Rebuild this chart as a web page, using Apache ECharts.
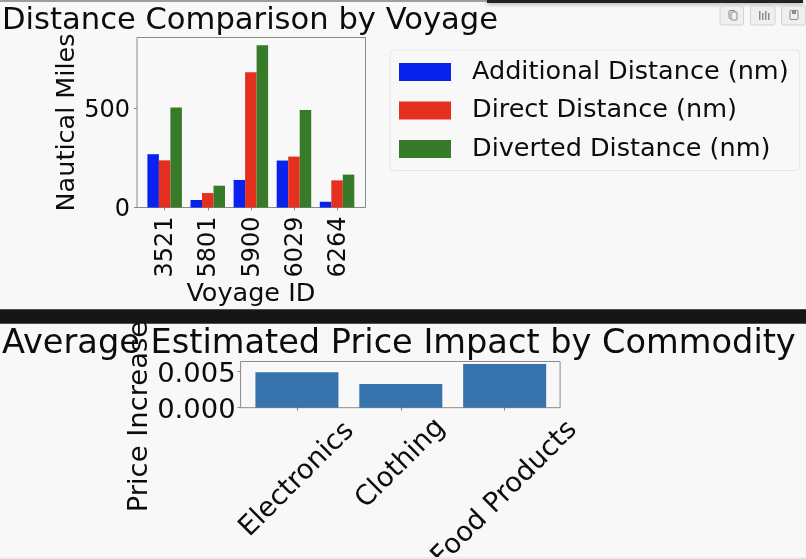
<!DOCTYPE html>
<html><head><meta charset="utf-8">
<style>html,body{margin:0;padding:0;background:#f8f8f8}#c{width:806px;height:559px}</style>
<script src="https://cdn.jsdelivr.net/npm/echarts@6/dist/echarts.min.js"></script>
</head><body><div id="c"></div>
<script>
const voyages = ['3521','5801','5900','6029','6264'];
const additional = [269,38,139,237,29];
const direct = [238,73,683,257,137];
const diverted = [505,110,819,492,166];
const commodities = ['Electronics','Clothing','Food Products'];
const priceImpact = [0.00485,0.00325,0.0060];
const distanceTicks = [0,500];
const priceTicks = [0,0.005];

const F = 'DejaVu Sans';
const INK = '#0c0c0c';
const FRAME = '#8a8a8a';
const chart = echarts.init(document.getElementById('c'));

function shiftDown(d){ const p = 1.414*d; return {align:'center',verticalAlign:'top',lineHeight:p,padding:[0,p,0,0]}; }
const labelShift = {'Electronics':shiftDown(16),'Clothing':{align:'center',verticalAlign:'middle'},'Food Products':shiftDown(30)};

function btn(x,w){ return {type:'rect',shape:{x:x,y:6,width:w,height:19,r:2},style:{fill:'#efefef',stroke:'#d2d2d2'},z:5}; }
function glyph(x,y,w,h,fill){ return {type:'rect',shape:{x:x,y:y,width:w,height:h},style:{fill:fill||'#8c8c8c'},z:6}; }
function outline(x,y,w,h){ return {type:'rect',shape:{x:x,y:y,width:w,height:h,r:1},style:{fill:'#efefef',stroke:'#8c8c8c',lineWidth:1},z:6}; }

chart.setOption({
  animation:false,
  backgroundColor:'#f8f8f8',
  title:[
    {text:'Distance Comparison by Voyage',left:2,top:6,padding:0,textStyle:{fontFamily:F,fontSize:30.6,fontWeight:'normal',color:INK}},
    {text:'Average Estimated Price Impact by Commodity',left:2,top:327,padding:0,textStyle:{fontFamily:F,fontSize:33.6,fontWeight:'normal',color:INK}}
  ],
  legend:{
    data:['Additional Distance (nm)','Direct Distance (nm)','Diverted Distance (nm)'],
    left:390,top:50,orient:'vertical',icon:'rect',itemWidth:52,itemHeight:18,itemGap:12.5,
    padding:[9,11,8.5,9],backgroundColor:'#f8f8f8',borderColor:'#e6e6e6',borderWidth:1,borderRadius:4,
    textStyle:{fontFamily:F,fontSize:25.5,color:INK,padding:[0,0,0,16]}
  },
  grid:[
    {left:137,top:37.5,width:228.5,height:170,show:true,borderColor:FRAME,borderWidth:1,backgroundColor:'transparent',outerBoundsMode:'none'},
    {left:143.1,top:37.5,width:215.5,height:170,outerBoundsMode:'none'},
    {left:240.6,top:361.5,width:319.5,height:46.2,show:true,borderColor:FRAME,borderWidth:1,backgroundColor:'transparent',outerBoundsMode:'none'},
    {left:245,top:361.5,width:311.6,height:46.2,outerBoundsMode:'none'}
  ],
  xAxis:[
    {gridIndex:0,type:'category',data:voyages,show:false},
    {gridIndex:1,type:'category',data:voyages,
      name:'Voyage ID',nameLocation:'middle',nameGap:67,nameTextStyle:{fontFamily:F,fontSize:25.5,color:INK},
      axisLine:{show:false},axisTick:{show:true,alignWithLabel:true,length:3,lineStyle:{color:FRAME}},
      axisLabel:{rotate:90,margin:9,interval:0,fontFamily:F,fontSize:24,color:INK,verticalAlign:'top',lineHeight:3}},
    {gridIndex:2,type:'category',data:commodities,show:false},
    {gridIndex:3,type:'category',
      data:commodities.map(c=>({value:c,textStyle:labelShift[c]})),
      axisLine:{show:false},axisTick:{show:true,alignWithLabel:true,length:3,lineStyle:{color:FRAME}},
      axisLabel:{rotate:45,margin:56,interval:0,fontFamily:F,fontSize:27.4,color:INK}}
  ],
  yAxis:[
    {gridIndex:0,type:'value',min:0,max:858,
      name:'Nautical Miles',nameLocation:'middle',nameGap:57,nameTextStyle:{fontFamily:F,fontSize:25.5,color:INK},
      splitLine:{show:false},axisLine:{show:false},
      axisTick:{show:true,length:3,lineStyle:{color:FRAME},customValues:distanceTicks},
      axisLabel:{fontFamily:F,fontSize:24,color:INK,margin:7,verticalAlign:'top',lineHeight:5,customValues:distanceTicks}},
    {gridIndex:1,type:'value',min:0,max:858,show:false,splitLine:{show:false}},
    {gridIndex:2,type:'value',min:0,max:0.00633,
      name:'Price Increase',nameLocation:'middle',nameGap:87,nameTextStyle:{fontFamily:F,fontSize:27.4,color:INK,padding:[0,64,0,0]},
      splitLine:{show:false},axisLine:{show:false},
      axisTick:{show:true,length:3,lineStyle:{color:FRAME},customValues:priceTicks},
      axisLabel:{fontFamily:F,fontSize:27.4,color:INK,margin:5,verticalAlign:'top',lineHeight:7,customValues:priceTicks,formatter:v=>v.toFixed(3)}},
    {gridIndex:3,type:'value',min:0,max:0.00633,show:false,splitLine:{show:false}}
  ],
  series:[
    {name:'Additional Distance (nm)',type:'bar',xAxisIndex:1,yAxisIndex:1,data:additional,barWidth:11.5,barGap:0,itemStyle:{color:'#0a22ee'}},
    {name:'Direct Distance (nm)',type:'bar',xAxisIndex:1,yAxisIndex:1,data:direct,barWidth:11.5,barGap:0,itemStyle:{color:'#e53020'}},
    {name:'Diverted Distance (nm)',type:'bar',xAxisIndex:1,yAxisIndex:1,data:diverted,barWidth:11.5,barGap:0,itemStyle:{color:'#367a2a'}},
    {name:'Price Increase',type:'bar',xAxisIndex:3,yAxisIndex:3,data:priceImpact,barWidth:83,itemStyle:{color:'#3672ab'}}
  ],
  graphic:[
    {type:'rect',shape:{x:0,y:309.3,width:806,height:14.4},style:{fill:'#161616'},z:5},
    {type:'rect',shape:{x:0,y:0.5,width:490,height:1},style:{fill:'#444'},z:5},
    {type:'rect',shape:{x:487,y:0,width:316,height:3},style:{fill:'#222',shadowBlur:4,shadowColor:'#999',shadowOffsetY:1},z:5},
    {type:'rect',shape:{x:0,y:557,width:806,height:2},style:{fill:'#ebebed'},z:5},
    btn(720,23.5),btn(750.5,24.5),btn(781.5,24),
    outline(729,10.5,6,8),outline(731,12,6,8),
    glyph(759,11,1.5,9),glyph(762,13,1.5,7),glyph(765,11,1.5,9),glyph(768,13,1.5,7),
    outline(790,10.5,8,9),glyph(792,11,4,3)
  ]
});
</script></body></html>
